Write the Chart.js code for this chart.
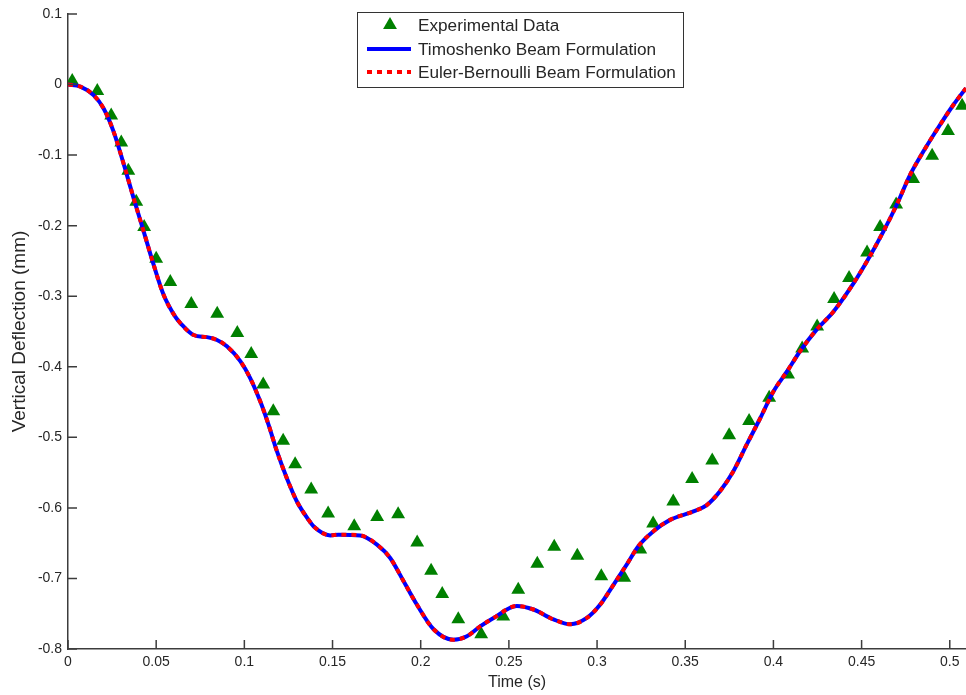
<!DOCTYPE html>
<html>
<head>
<meta charset="utf-8">
<title>Vertical Deflection vs Time</title>
<script src="https://cdn.jsdelivr.net/npm/chart.js@4.4.1/dist/chart.umd.min.js"></script>
<style>
  html, body { margin: 0; padding: 0; background: #fff; overflow: hidden; }
  #wrap { width: 966px; height: 695px; }
  canvas { display: block; }
</style>
</head>
<body>
<div id="wrap"><canvas id="deflectionChart" width="966" height="695"></canvas></div>
<script>
// Experimental data (time in s, deflection in mm)
const expTime = [0.0024, 0.0166, 0.0245, 0.0302, 0.0342, 0.0387, 0.0432, 0.0500, 0.0580, 0.0699,
  0.0846, 0.0960, 0.1039, 0.1107, 0.1164, 0.1220, 0.1288, 0.1379, 0.1475, 0.1623,
  0.1753, 0.1872, 0.1980, 0.2059, 0.2122, 0.2213, 0.2343, 0.2468, 0.2553, 0.2661,
  0.2757, 0.2888, 0.3024, 0.3154, 0.3245, 0.3318, 0.3432, 0.3539, 0.3653, 0.3749,
  0.3862, 0.3976, 0.4083, 0.4163, 0.4248, 0.4344, 0.4429, 0.4531, 0.4605, 0.4696,
  0.4792, 0.4900, 0.4990, 0.5070];
const expDeflection = [0.005, -0.009, -0.044, -0.082, -0.122, -0.166, -0.202, -0.247, -0.280, -0.311,
  -0.325, -0.352, -0.382, -0.425, -0.463, -0.505, -0.538, -0.574, -0.608, -0.626,
  -0.613, -0.609, -0.649, -0.689, -0.722, -0.758, -0.779, -0.754, -0.716, -0.679,
  -0.655, -0.668, -0.697, -0.699, -0.659, -0.622, -0.591, -0.559, -0.533, -0.497,
  -0.477, -0.444, -0.411, -0.374, -0.343, -0.304, -0.274, -0.238, -0.202, -0.170,
  -0.134, -0.101, -0.066, -0.030];

// Beam model curves (both formulations overlap)
const modelTime = [0, 0.0070, 0.0145, 0.0202, 0.0259, 0.0328, 0.0372, 0.0429, 0.0485, 0.0542,
  0.0608, 0.0637, 0.0712, 0.0788, 0.0845, 0.0901, 0.0977, 0.1033, 0.1090, 0.1137,
  0.1185, 0.1241, 0.1298, 0.1364, 0.1392, 0.1487, 0.1534, 0.1657, 0.1752, 0.1827,
  0.1903, 0.1978, 0.2073, 0.2186, 0.2262, 0.2337, 0.2413, 0.2545, 0.2639, 0.2753,
  0.2848, 0.2942, 0.3018, 0.3093, 0.3169, 0.3235, 0.3320, 0.3414, 0.3547, 0.3622,
  0.3698, 0.3773, 0.3849, 0.3925, 0.4000, 0.4076, 0.4151, 0.4246, 0.4340, 0.4435,
  0.4529, 0.4624, 0.4700, 0.4775, 0.4850, 0.4945, 0.5020, 0.5092];
const timoshenko = [0, -0.003, -0.015, -0.034, -0.067, -0.123, -0.161, -0.208, -0.255, -0.298,
  -0.329, -0.338, -0.355, -0.358, -0.362, -0.371, -0.392, -0.416, -0.449, -0.482,
  -0.520, -0.558, -0.591, -0.617, -0.626, -0.639, -0.638, -0.639, -0.652, -0.671,
  -0.704, -0.737, -0.772, -0.787, -0.782, -0.768, -0.756, -0.739, -0.744, -0.758,
  -0.765, -0.756, -0.737, -0.709, -0.680, -0.654, -0.633, -0.617, -0.605, -0.596,
  -0.576, -0.548, -0.510, -0.473, -0.435, -0.407, -0.378, -0.347, -0.322, -0.289,
  -0.251, -0.208, -0.170, -0.128, -0.095, -0.057, -0.029, -0.005];
const eulerBernoulli = [0, -0.003, -0.015, -0.034, -0.067, -0.123, -0.161, -0.208, -0.255, -0.298,
  -0.329, -0.338, -0.355, -0.358, -0.362, -0.371, -0.392, -0.416, -0.449, -0.482,
  -0.520, -0.558, -0.591, -0.617, -0.626, -0.639, -0.638, -0.639, -0.652, -0.671,
  -0.704, -0.737, -0.772, -0.787, -0.782, -0.768, -0.756, -0.739, -0.744, -0.758,
  -0.765, -0.756, -0.737, -0.709, -0.680, -0.654, -0.633, -0.617, -0.605, -0.596,
  -0.576, -0.548, -0.510, -0.473, -0.435, -0.407, -0.378, -0.347, -0.322, -0.289,
  -0.251, -0.208, -0.170, -0.128, -0.095, -0.057, -0.029, -0.005];

// Tick labels
const xTicks = [0, 0.05, 0.1, 0.15, 0.2, 0.25, 0.3, 0.35, 0.4, 0.45, 0.5];
const yTicks = [0.1, 0, -0.1, -0.2, -0.3, -0.4, -0.5, -0.6, -0.7, -0.8];

const textColor = "#262626";
const axisColor = "#3c3c3c";
Chart.defaults.font.family = "'Liberation Sans', Arial, sans-serif";
Chart.defaults.color = textColor;

function toPoints(xs, ys) {
  return xs.map((x, i) => ({ x: x, y: ys[i] }));
}

// Matlab style ticks pointing into the plot
const inwardTicks = {
  id: "inwardTicks",
  afterDatasetsDraw(chart) {
    const { ctx, chartArea, scales } = chart;
    ctx.save();
    ctx.strokeStyle = axisColor;
    ctx.lineWidth = 1.5;
    ctx.beginPath();
    scales.x.ticks.forEach(t => {
      const px = scales.x.getPixelForValue(t.value);
      ctx.moveTo(px, chartArea.bottom);
      ctx.lineTo(px, chartArea.bottom - 9);
    });
    scales.y.ticks.forEach(t => {
      const py = scales.y.getPixelForValue(t.value);
      ctx.moveTo(chartArea.left, py);
      ctx.lineTo(chartArea.left + 9, py);
    });
    ctx.stroke();
    ctx.restore();
  }
};

// Boxed legend in the top middle of the plot
const boxLegend = {
  id: "boxLegend",
  afterDraw(chart) {
    const ctx = chart.ctx;
    const box = { x: 357, y: 12, w: 326, h: 75 };
    const rows = [25, 49, 72];
    ctx.save();
    ctx.fillStyle = "#fff";
    ctx.fillRect(box.x, box.y, box.w, box.h);
    ctx.strokeStyle = "#333";
    ctx.lineWidth = 1;
    ctx.strokeRect(box.x + 0.5, box.y + 0.5, box.w, box.h);

    // experimental, timoshenko, euler-bernoulli
    const order = [2, 1, 0];
    order.forEach((dsIndex, row) => {
      const ds = chart.data.datasets[dsIndex];
      const y = rows[row];
      if (ds.showLine) {
        ctx.strokeStyle = ds.borderColor;
        ctx.lineWidth = ds.borderWidth;
        ctx.setLineDash(ds.borderDash || []);
        ctx.beginPath();
        ctx.moveTo(367, y);
        ctx.lineTo(411, y);
        ctx.stroke();
        ctx.setLineDash([]);
      } else {
        const r = 8;
        ctx.fillStyle = ds.backgroundColor;
        ctx.beginPath();
        ctx.moveTo(390, y - r);
        ctx.lineTo(390 + r * 0.866, y + r * 0.5);
        ctx.lineTo(390 - r * 0.866, y + r * 0.5);
        ctx.closePath();
        ctx.fill();
      }
      ctx.fillStyle = textColor;
      ctx.font = "17.2px 'Liberation Sans', Arial, sans-serif";
      ctx.textBaseline = "middle";
      ctx.textAlign = "left";
      ctx.fillText(ds.label, 418, y + 1);
    });
    ctx.restore();
  }
};

new Chart(document.getElementById("deflectionChart"), {
  type: "scatter",
  data: {
    datasets: [
      {
        label: "Euler-Bernoulli Beam Formulation",
        data: toPoints(modelTime, eulerBernoulli),
        showLine: true,
        borderColor: "#ff0000",
        borderWidth: 4,
        borderDash: [5, 5],
        borderCapStyle: "butt",
        pointRadius: 0,
        cubicInterpolationMode: "monotone",
        order: 0
      },
      {
        label: "Timoshenko Beam Formulation",
        data: toPoints(modelTime, timoshenko),
        showLine: true,
        borderColor: "#0000ff",
        borderWidth: 4,
        pointRadius: 0,
        cubicInterpolationMode: "monotone",
        order: 1
      },
      {
        label: "Experimental Data",
        data: toPoints(expTime, expDeflection),
        showLine: false,
        pointStyle: "triangle",
        pointRadius: 8,
        backgroundColor: "#008000",
        borderColor: "#008000",
        borderWidth: 0,
        order: 2
      }
    ]
  },
  options: {
    responsive: false,
    animation: false,
    layout: { autoPadding: false, padding: { top: 14, right: 0, bottom: 0, left: 0 } },
    plugins: {
      legend: { display: false },
      tooltip: { enabled: false }
    },
    scales: {
      x: {
        type: "linear",
        min: 0,
        max: 0.5092,
        afterBuildTicks: s => { s.ticks = xTicks.map(v => ({ value: v })); },
        afterFit: s => { s.height = 46; s.paddingLeft = 0; s.paddingRight = 0; },
        ticks: {
          callback: v => String(v),
          autoSkip: false,
          maxRotation: 0,
          padding: 5,
          color: textColor,
          font: { size: 14 }
        },
        grid: { drawOnChartArea: false, drawTicks: false },
        border: { display: true, color: axisColor, width: 1.5 },
        title: {
          display: true,
          text: "Time (s)",
          color: textColor,
          font: { size: 16 },
          padding: { top: 0, bottom: 3 }
        }
      },
      y: {
        type: "linear",
        min: -0.8,
        max: 0.1,
        afterBuildTicks: s => { s.ticks = yTicks.map(v => ({ value: v })); },
        afterFit: s => { s.width = 68; s.paddingTop = 0; s.paddingBottom = 0; },
        ticks: {
          callback: v => String(v),
          autoSkip: false,
          padding: 6,
          color: textColor,
          font: { size: 14 }
        },
        grid: { drawOnChartArea: false, drawTicks: false },
        border: { display: true, color: axisColor, width: 1.5 },
        title: {
          display: true,
          text: "Vertical Deflection (mm)",
          color: textColor,
          font: { size: 19 },
          padding: { top: 8, bottom: 0 }
        }
      }
    }
  },
  plugins: [inwardTicks, boxLegend]
});
</script>
</body>
</html>
